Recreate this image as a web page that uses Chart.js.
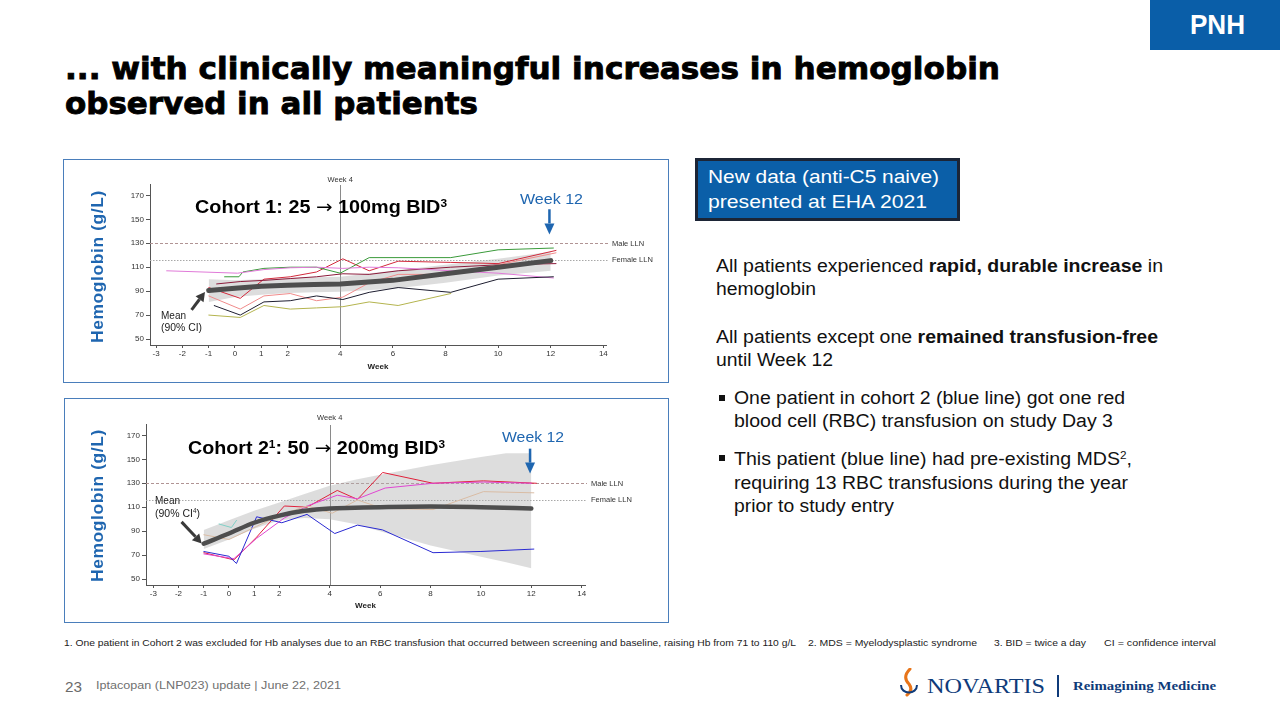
<!DOCTYPE html>
<html><head><meta charset="utf-8">
<script src="https://cdn.jsdelivr.net/npm/chart.js@4.4.1/dist/chart.umd.min.js"></script>
<style>
html,body{margin:0;padding:0;}
body{width:1280px;height:720px;position:relative;overflow:hidden;background:#fff;font-family:"Liberation Sans",Arial,sans-serif;color:#111;}
.a{position:absolute;white-space:nowrap;line-height:1;}
.frame{position:absolute;border:1.5px solid #4a7ebb;box-sizing:border-box;}
canvas{position:absolute;}
.sup{font-size:0.6em;position:relative;top:-0.6em;}
.arr{font-family:"DejaVu Sans";font-weight:normal;}
.heavy{-webkit-text-stroke:0.9px #000;}
</style></head><body>
<div class="a" style="left:1150px;top:0;width:130px;height:50px;background:#0a5ea8;"></div>
<div class="a" style="left:695px;top:158px;width:265px;height:63px;background:#0b5fa8;border:3px solid #1c2536;box-sizing:border-box;"></div>
<div class="frame" style="left:63px;top:159px;width:606px;height:224px;"></div>
<div class="frame" style="left:64px;top:398px;width:605px;height:225px;"></div>
<canvas id="c1" width="604" height="224" style="left:64px;top:159px;"></canvas>
<canvas id="c2" width="604" height="225" style="left:64px;top:397px;"></canvas>
<div class="a" style="left:719px;top:395px;width:6px;height:6px;background:#111;"></div>
<div class="a" style="left:719px;top:455px;width:6px;height:6px;background:#111;"></div>
<div class="a" style="left:1057px;top:675px;width:1.5px;height:22px;background:#0f3b7a;"></div>
<svg style="position:absolute;left:898px;top:668px" width="22" height="30" viewBox="0 0 22 30">
<path d="M12 1 C 6 7, 7 12, 11 16 C 14 20, 13 24, 9 27" stroke="#e8751a" stroke-width="3" fill="none" stroke-linecap="round"/>
<path d="M3 17 C 3 27, 19 27, 19 17" stroke="#0f3b7a" stroke-width="2" fill="none"/>
</svg>
<script>
// ---------------- DATA ----------------
const xTickWeeks = [-3,-2,-1,0,1,2,4,6,8,10,12,14];
const yTickValues = [50,70,90,110,130,150,170];
const llnValues = [130, 116];
const llnNames = ['Male LLN','Female LLN'];
const week4 = 4;

// Cohort 1 individual patients: [week, Hb g/L]
const c1Green  = [[-0.4,102],[0.15,102],[0.3,106],[1.1,109],[2.1,110],[3.1,110],[4.0,105],[5.1,118],[8.2,118],[10,124.5],[12.1,126]];
const c1Maroon = [[-0.7,96],[0.2,98],[1.1,99],[2.1,100.5],[3.1,102],[4.1,104.5],[5.1,104],[6.2,107],[8.2,110],[10,112],[12.2,113]];
const c1Red    = [[-1,93],[0.2,84],[1.1,100],[2.1,102],[3.1,106],[4.1,117],[5.1,107],[6.2,115],[8.2,114],[10,113],[12.2,124]];
const c1Salmon = [[-1,86],[0.2,75],[1.1,86],[2.1,88],[3.1,82],[4.1,85],[5.1,97],[6.2,104],[8.2,104],[10,112],[12.2,122]];
const c1Black  = [[-0.8,78],[0.2,70],[1.1,81],[2.1,82],[3.1,86],[4.1,83],[5.1,89],[6.2,93],[8.2,89],[10,100],[12.1,102]];
const c1Olive  = [[-1,70],[0.2,68],[1.1,78],[2.1,75],[3.1,76],[4.1,77],[5.1,81],[6.2,78],[8.2,88]];
const c1Pink   = [[-2.6,107],[0.1,105],[1.1,108],[2.1,109.5],[3.1,110],[4.1,109],[5.1,110],[6.2,109.5],[8.2,107],[10,105],[12.1,101]];
const c1MeanWeeks = [-1,0,1,2,3,4,6,8,10,12];
const c1MeanHb    = [90.5,92.5,94,95,95.5,96,99,104.5,110,115.5];
const c1CiWeeks   = [-1,0,1,2,3,4,6,8,10,12];
const c1CiUpper   = [100,99,100,101,101.5,102,107,112,117,123];
const c1CiLower   = [81,85,87,88.5,89,89.5,92,97,103,107];

// Cohort 2 individual patients: [week, Hb g/L]
const c2Red     = [[-1,72],[0.2,66],[1.1,85],[2.2,111],[3.1,110],[4.3,124],[5.1,116.5],[6.1,139],[8.1,130],[10.1,132],[12.2,130]];
const c2Magenta = [[-1,71],[0.2,67],[1.1,84],[2.2,101],[3.1,111],[4.3,120],[5.1,117],[6.2,126],[8.1,130],[10.1,131],[12,130]];
const c2Blue    = [[-1,73],[0,69],[0.3,63],[1.1,102],[2.1,97],[3.1,104],[4.2,88],[5.1,95],[6.1,91],[8.1,72],[10,73],[12.1,75]];
const c2Tan     = [[-1,87],[0,83],[1.1,94],[2.1,104],[3.1,111],[4.1,105],[5.1,116],[6.1,109],[8.1,108],[10.1,123],[12.1,122]];
const c2Teal    = [[-0.4,96],[0.1,93],[0.3,99]];
const c2MeanWeeks = [-1,0,1,2,3,4,5,6,8,10,12];
const c2MeanHb    = [79.5,88,97,103,107,109,109.5,110,110.5,110,109];
const c2CiWeeks   = [-1,0,1,2,3,4,5,6,8,10,11,12];
const c2CiUpper   = [91,99,107,114,121,128,133,137,145,152,155,155];
const c2CiLower   = [75,83,92,99,101,100,96,90,78,68.5,64,59];

// ---------------- HELPERS ----------------
const pts = arr => arr.map(p => ({x:p[0], y:p[1]}));
const zip = (xs, ys) => xs.map((x,i) => ({x, y:ys[i]}));

function addText(html, x, cy, size, o={}){
  const d = document.createElement('div');
  d.className = 'a' + (o.cls ? ' ' + o.cls : ''); d.innerHTML = html;
  d.style.fontSize = size + 'px';
  d.style.fontWeight = o.b ? 'bold' : 'normal';
  d.style.color = o.c || '#111';
  if (o.f) d.style.fontFamily = o.f;
  if (o.ls) d.style.letterSpacing = o.ls + 'px';
  d.style.left = '0px'; d.style.top = '0px';
  document.body.appendChild(d);
  const r = d.getBoundingClientRect();
  let w = r.width;
  if (o.w){ d.style.transformOrigin = '0 50%'; d.style.transform = 'scaleX(' + (o.w / r.width) + ')'; w = o.w; }
  d.style.left = (o.cx !== undefined ? o.cx - w/2 : x) + 'px';
  d.style.top = (cy - r.height/2) + 'px';
  return d;
}

function arrow(ctx, x1, y1, x2, y2, color, lw, hl, hw){
  const ang = Math.atan2(y2-y1, x2-x1);
  const bx = x2 - Math.cos(ang)*hl, by = y2 - Math.sin(ang)*hl;
  ctx.save();
  ctx.strokeStyle = color; ctx.fillStyle = color; ctx.lineWidth = lw;
  ctx.beginPath(); ctx.moveTo(x1,y1); ctx.lineTo(bx,by); ctx.stroke();
  ctx.beginPath(); ctx.moveTo(x2,y2);
  ctx.lineTo(bx + Math.sin(ang)*hw/2, by - Math.cos(ang)*hw/2);
  ctx.lineTo(bx - Math.sin(ang)*hw/2, by + Math.cos(ang)*hw/2);
  ctx.closePath(); ctx.fill();
  ctx.restore();
}

const annot = {
  id:'annot',
  beforeDatasetsDraw(chart, args, o){
    const {ctx, chartArea:a, scales:{x, y}} = chart;
    ctx.save();
    const px = Math.round(x.getPixelForValue(week4)) + 0.5;
    ctx.strokeStyle = '#8a8a8a'; ctx.lineWidth = 1;
    ctx.beginPath(); ctx.moveTo(px, a.top + 1); ctx.lineTo(px, a.bottom); ctx.stroke();
    llnValues.forEach((v,i) => {
      const py = Math.round(y.getPixelForValue(v)) + 0.5;
      ctx.setLineDash(i === 0 ? [3,2] : [1.5,1.5]);
      ctx.strokeStyle = i === 0 ? '#b09494' : '#a8a8a8';
      ctx.beginPath(); ctx.moveTo(a.left, py); ctx.lineTo(a.right + 2, py); ctx.stroke();
    });
    ctx.restore();
  },
  afterDatasetsDraw(chart, args, o){
    const {ctx, scales:{x, y}} = chart;
    const w = o.w12, m = o.mean;
    arrow(ctx, x.getPixelForValue(w[0]), y.getPixelForValue(w[1]), x.getPixelForValue(w[0]), y.getPixelForValue(w[2]), '#1f66b0', 2.5, 11, 10);
    arrow(ctx, x.getPixelForValue(m[0]), y.getPixelForValue(m[1]), x.getPixelForValue(m[2]), y.getPixelForValue(m[3]), '#3a3a3a', 3, 9, 10);
  }
};

function makeChart(id, cfg){
  const ds = [];
  ds.push({data: zip(cfg.meanW, cfg.meanV), borderColor:'#4e4e4e', borderWidth:cfg.meanWidth,
           tension: cfg.tension, cubicInterpolationMode: cfg.tension ? 'monotone' : 'default', order:0, fill:false});
  cfg.patients.forEach(p => ds.push({data: pts(p.d), borderColor: p.c, borderWidth: 1, order: 1, fill:false}));
  ds.push({data: zip(cfg.ciW, cfg.ciU), borderWidth:0, borderColor:'rgba(0,0,0,0)', order:2, fill:false});
  ds.push({data: zip(cfg.ciW, cfg.ciL), borderWidth:0, borderColor:'rgba(0,0,0,0)', order:2, fill:'-1', backgroundColor: cfg.band});
  const tickFont = {size:8, family:'Liberation Sans'};
  return new Chart(document.getElementById(id), {
    type:'line',
    data:{datasets: ds},
    plugins:[annot],
    options:{
      responsive:false, animation:false, devicePixelRatio:1,
      layout:{padding:{left:0, top:cfg.padTop, right:cfg.padRight, bottom:0}},
      elements:{point:{radius:0, hoverRadius:0}, line:{borderCapStyle:'round', borderJoinStyle:'round'}},
      plugins:{legend:{display:false}, tooltip:{enabled:false},
        annot:{w12: cfg.w12Arrow, mean: cfg.meanArrow}},
      scales:{
        x:{type:'linear', min:cfg.xMin, max:cfg.xMax,
          afterBuildTicks: s => { s.ticks = xTickWeeks.map(v => ({value:v})); },
          afterFit: s => { s.height = cfg.xH; },
          grid:{drawOnChartArea:false, drawTicks:true, tickLength:3, color:'#555', lineWidth:1},
          border:{display:true, color:'#555', width:1},
          ticks:{font:tickFont, color:'#333', padding:1, maxRotation:0, autoSkip:false, callback: v => String(v)},
          title:{display:true, text:'Week', font:{size:8, weight:'bold', family:'Liberation Sans'}, color:'#222', padding:{top:0, bottom:11}}
        },
        y:{type:'linear', min:45, max:179.5,
          afterBuildTicks: s => { s.ticks = yTickValues.map(v => ({value:v})); },
          afterFit: s => { s.width = cfg.yW; },
          grid:{drawOnChartArea:false, drawTicks:true, tickLength:4, color:'#555', lineWidth:1},
          border:{display:true, color:'#555', width:1},
          ticks:{font:tickFont, color:'#333', padding:2, autoSkip:false, callback: v => String(v)}
        }
      }
    }
  });
}

const chart1 = makeChart('c1', {
  meanW:c1MeanWeeks, meanV:c1MeanHb, meanWidth:5, tension:0,
  ciW:c1CiWeeks, ciU:c1CiUpper, ciL:c1CiLower, band:'rgba(175,175,175,0.42)',
  patients:[
    {d:c1Olive, c:'#b4b44e'}, {d:c1Black, c:'#1e1e30'}, {d:c1Salmon, c:'#f08a8a'},
    {d:c1Pink, c:'#e07ad8'}, {d:c1Green, c:'#3a9a3a'}, {d:c1Maroon, c:'#8b1a3a'}, {d:c1Red, c:'#d22a3c'}
  ],
  xMin:-3.23, xMax:14.1, padTop:25, padRight:62, yW:86, xH:38,
  w12Arrow:[11.95, 158.4, 137.4], meanArrow:[-1.65, 74.4, -1.14, 89.2]
});
const chart2 = makeChart('c2', {
  meanW:c2MeanWeeks, meanV:c2MeanHb, meanWidth:4.5, tension:0.4,
  ciW:c2CiWeeks, ciU:c2CiUpper, ciL:c2CiLower, band:'rgba(175,175,175,0.42)',
  patients:[
    {d:c2Teal, c:'#7fd0c6'}, {d:c2Tan, c:'#d9bca4'}, {d:c2Blue, c:'#2a2ad2'},
    {d:c2Magenta, c:'#e046d2'}, {d:c2Red, c:'#e0203a'}
  ],
  xMin:-3.29, xMax:14.13, padTop:27, padRight:83, yW:82, xH:37,
  w12Arrow:[11.95, 158.9, 138.1], meanArrow:[-1.88, 97.75, -1.08, 79.75]
});

// ---------------- TEXT ----------------
addText('PNH', 0, 25, 28, {b:1, c:'#fff', w:55, cx:1217});
addText('... with clinically meaningful increases in hemoglobin', 65, 68, 31, {b:1, c:'#000', w:935, f:'"DejaVu Sans"', cls:'heavy'});
addText('observed in all patients', 65, 103, 31, {b:1, c:'#000', w:413, f:'"DejaVu Sans"', cls:'heavy'});

addText('New data (anti-C5 naive)', 708, 177, 18.5, {c:'#fff', w:231});
addText('presented at EHA 2021', 708, 202, 18.5, {c:'#fff', w:219});

addText('All patients experienced <b>rapid, durable increase</b> in', 716, 266, 18, {w:447});
addText('hemoglobin', 716, 289, 18, {w:100});
addText('All patients except one <b>remained transfusion-free</b>', 716, 337, 18, {w:442});
addText('until Week 12', 716, 360, 18, {w:117});
addText('One patient in cohort 2 (blue line) got one red', 734, 398, 18, {w:391});
addText('blood cell (RBC) transfusion on study Day 3', 734, 421, 18, {w:379});
addText('This patient (blue line) had pre-existing MDS<span class="sup">2</span>,', 734, 459, 18, {w:398});
addText('requiring 13 RBC transfusions during the year', 734, 483, 18, {w:394});
addText('prior to study entry', 734, 506, 18, {w:160});

addText('1. One patient in Cohort 2 was excluded for Hb analyses due to an RBC transfusion that occurred between screening and baseline, raising Hb from 71 to 110 g/L', 64, 643, 9.5, {c:'#222', w:732});
addText('2. MDS = Myelodysplastic syndrome', 808, 643, 9.5, {c:'#222', w:169});
addText('3. BID = twice a day', 994, 643, 9.5, {c:'#222', w:92});
addText('CI = confidence interval', 1104, 643, 9.5, {c:'#222', w:112});
addText('23', 65, 686, 15, {c:'#6a6a6a', w:17});
addText('Iptacopan (LNP023) update | June 22, 2021', 96, 686, 11.5, {c:'#707070', w:245});
addText('NOVARTIS', 927, 686, 21, {c:'#0f3b7a', w:118, f:'"Liberation Serif"'});
addText('Reimagining Medicine', 1073, 686, 13.5, {b:1, c:'#0f3b7a', w:143, f:'"Liberation Serif"'});

// chart annotations
addText('Cohort 1: 25 <span class="arr">&rarr;</span> 100mg BID<span class="sup">3</span>', 195, 207, 18, {b:1, c:'#000', w:252});
addText('Week 12', 520, 199, 15.5, {c:'#1f66b0', w:63});
addText('Mean', 161, 315, 10.5, {c:'#222', w:25});
addText('(90% CI)', 161, 327, 10.5, {c:'#222', w:41});
addText('Cohort 2<span class="sup">1</span>: 50 <span class="arr">&rarr;</span> 200mg BID<span class="sup">3</span>', 188, 448, 18, {b:1, c:'#000', w:257});
addText('Week 12', 502, 437, 15.5, {c:'#1f66b0', w:62});
addText('Mean', 155, 500, 10.5, {c:'#222', w:25});
addText('(90% CI<span class="sup">4</span>)', 155, 513, 10.5, {c:'#222', w:45});

function yTitle(cy){
  const d = addText('Hemoglobin (g/L)', 0, 0, 17, {b:1, c:'#1f66b0', ls:0.6});
  const r = d.getBoundingClientRect();
  d.style.left = (98 - r.width/2) + 'px';
  d.style.top = (cy - r.height/2) + 'px';
  d.style.transformOrigin = '50% 50%';
  d.style.transform = 'rotate(-90deg) scaleX(' + (153 / r.width) + ')';
}
yTitle(266); yTitle(505);

function chartLabels(ch, left, top, w4y){
  const a = ch.chartArea, x = ch.scales.x, y = ch.scales.y;
  addText('Week 4', 0, w4y, 7.5, {c:'#333', cx: left + x.getPixelForValue(week4)});
  llnValues.forEach((v,i) => addText(llnNames[i], left + a.right + 6, top + y.getPixelForValue(v), 7.5, {c:'#333'}));
}
chartLabels(chart1, 64, 159, 180);
chartLabels(chart2, 64, 397, 418);
</script>
</body></html>
